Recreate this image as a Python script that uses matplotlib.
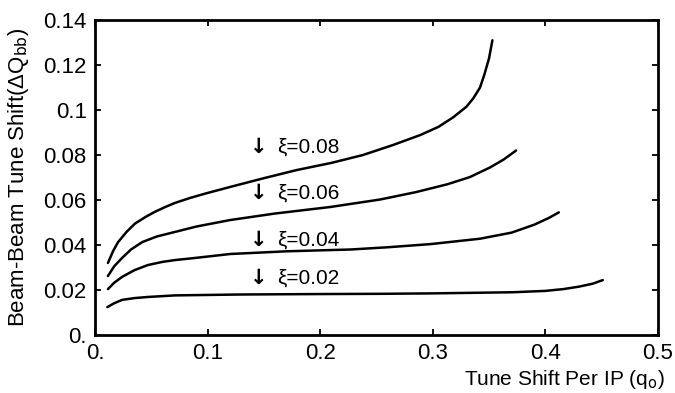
import matplotlib
matplotlib.use("Agg")
import matplotlib.pyplot as plt

plt.rcParams["font.family"] = ["Liberation Sans", "DejaVu Sans"]

# beam-beam tune shift vs tune shift per IP, one curve per xi
q_008 = [0.0115, 0.016, 0.0204, 0.028, 0.0355, 0.045, 0.053, 0.062, 0.071, 0.085, 0.099, 0.120, 0.150,
         0.179, 0.210, 0.238, 0.265, 0.289, 0.305, 0.318, 0.330, 0.336, 0.342, 0.346, 0.350, 0.353]
dq_008 = [0.032, 0.0372, 0.0412, 0.0458, 0.0495, 0.0525, 0.0547, 0.0568, 0.0587, 0.061, 0.0630, 0.0658, 0.0697,
          0.0733, 0.0765, 0.080, 0.0845, 0.0889, 0.0925, 0.0967, 0.1015, 0.1052, 0.110, 0.116, 0.123, 0.131]

q_006 = [0.0115, 0.017, 0.024, 0.032, 0.042, 0.055, 0.071, 0.090, 0.120, 0.160, 0.209, 0.253, 0.285,
         0.313, 0.333, 0.351, 0.363, 0.374]
dq_006 = [0.0262, 0.0305, 0.0342, 0.038, 0.0413, 0.0438, 0.0458, 0.0482, 0.0511, 0.054, 0.0569, 0.0602, 0.0635,
          0.067, 0.0702, 0.0745, 0.078, 0.082]

q_004 = [0.0115, 0.017, 0.024, 0.035, 0.047, 0.060, 0.071, 0.090, 0.120, 0.170, 0.227, 0.260, 0.298,
         0.342, 0.370, 0.390, 0.403, 0.412]
dq_004 = [0.0204, 0.0232, 0.0258, 0.0288, 0.0311, 0.0325, 0.0333, 0.0343, 0.036, 0.0372, 0.038, 0.039, 0.0404,
          0.0428, 0.0455, 0.049, 0.052, 0.0545]

q_002 = [0.011, 0.017, 0.024, 0.035, 0.047, 0.071, 0.100, 0.129, 0.200, 0.253, 0.300, 0.371, 0.400,
         0.416, 0.430, 0.442, 0.451]
dq_002 = [0.0124, 0.0141, 0.0156, 0.0164, 0.0169, 0.0176, 0.0178, 0.0180, 0.0182, 0.0183, 0.0185, 0.019, 0.0196,
          0.0204, 0.0215, 0.0228, 0.0244]

curve_labels = ["\u03be=0.08", "\u03be=0.06", "\u03be=0.04", "\u03be=0.02"]
label_y = [0.0836, 0.0631, 0.0422, 0.0253]
label_q = 0.162
arrow_q = 0.145

xticks = [0, 0.1, 0.2, 0.3, 0.4, 0.5]
xtick_labels = ["0.", "0.1", "0.2", "0.3", "0.4", "0.5"]
yticks = [0, 0.02, 0.04, 0.06, 0.08, 0.1, 0.12, 0.14]
ytick_labels = ["0.", "0.02", "0.04", "0.06", "0.08", "0.1", "0.12", "0.14"]

fig = plt.figure(figsize=(6.75, 3.93), dpi=100)
ax = fig.add_axes([0.1407, 0.1476, 0.834, 0.8014])

for q, dq in [(q_008, dq_008), (q_006, dq_006), (q_004, dq_004), (q_002, dq_002)]:
    ax.plot(q, dq, color="black", lw=1.8, solid_capstyle="round", solid_joinstyle="round")

for txt, y in zip(curve_labels, label_y):
    ax.text(arrow_q, y, "\u2193", fontsize=15, fontweight="bold", ha="center", va="center",
            family=["DejaVu Sans"])
    ax.text(label_q, y, txt, fontsize=15, ha="left", va="center")

ax.set_xlim(0, 0.5)
ax.set_ylim(0, 0.14)
ax.set_xticks(xticks)
ax.set_xticklabels(xtick_labels)
ax.set_yticks(yticks)
ax.set_yticklabels(ytick_labels)
ax.tick_params(direction="in", length=4, width=1.3, top=True, right=True, labelsize=16, pad=6)
for s in ax.spines.values():
    s.set_linewidth(2.0)

fig.text(0.027, 0.55, "Beam-Beam Tune Shift(\u0394Q$_{\\rm bb}$)", rotation=90, ha="center", va="center", fontsize=16)
fig.text(0.985, 0.035, "Tune Shift Per IP (q$_{\\rm o}$)", ha="right", va="center", fontsize=15)

fig.savefig("out.png", dpi=100)
